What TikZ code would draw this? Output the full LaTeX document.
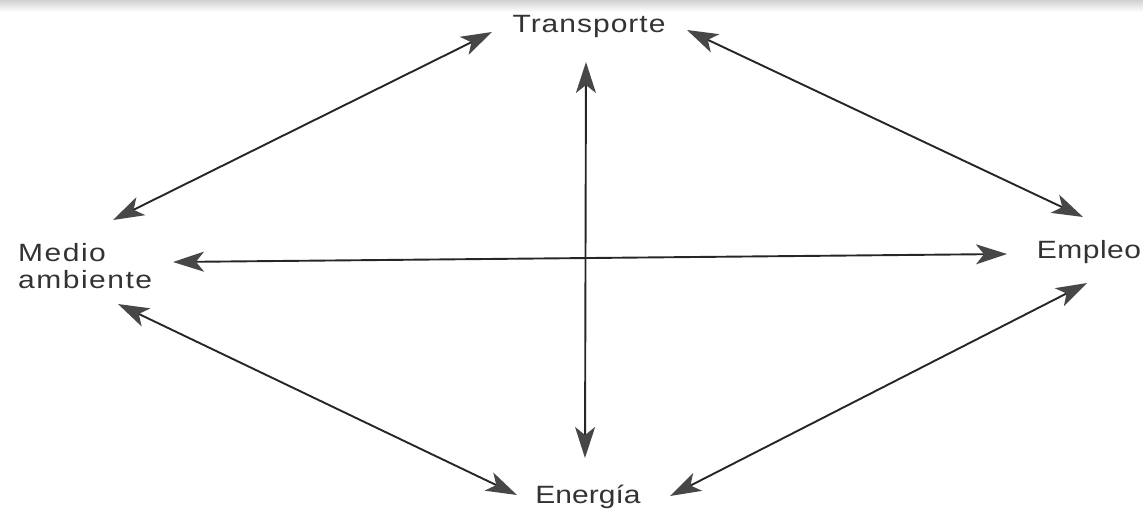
\documentclass[tikz,border=0pt]{standalone}
\usepackage{fontspec}
\setmainfont{Liberation Sans}
\newfontfamily\trfont[FakeStretch=1.2,LetterSpace=4]{Liberation Sans}
\newfontfamily\mafont[FakeStretch=1.2,LetterSpace=6]{Liberation Sans}
\newfontfamily\emfont[FakeStretch=1.2,LetterSpace=2]{Liberation Sans}
\newfontfamily\enfont[FakeStretch=1.2]{Liberation Sans}
\usetikzlibrary{arrows.meta}
\begin{document}
\begin{tikzpicture}[x=1pt,y=-1pt,
  lab/.style={text=black!80, inner sep=0pt},
  link/.style={line width=1.9pt, draw=black!85, {Stealth[length=31pt,width=20pt,inset=8pt,color=black!72]}-{Stealth[length=31pt,width=20pt,inset=8pt,color=black!72]}}]
\useasboundingbox (0,0) rectangle (1143,515);
\shade[top color=black!18,bottom color=white] (0,0) rectangle (1143,12);
\node[lab,font=\trfont\fontsize{25}{26}\selectfont,anchor=base] (tr) at (589,32) {Transporte};
\node[lab,font=\mafont\fontsize{25}{26.5}\selectfont,anchor=base west,align=left] (ma) at (18,288) {Medio\\ambiente};
\node[lab,font=\emfont\fontsize{25}{26}\selectfont,anchor=base] (em) at (1089,258) {Empleo};
\node[lab,font=\enfont\fontsize{25}{26}\selectfont,anchor=base] (en) at (588,503) {Energía};
\coordinate (trL) at (492,32);
\coordinate (trR) at (687,30);
\coordinate (trB) at (586,62);
\coordinate (maT) at (113,220);
\coordinate (maR) at (173,262);
\coordinate (maB) at (118,304);
\coordinate (emT) at (1083,217);
\coordinate (emL) at (1007,254);
\coordinate (emB) at (1087,283);
\coordinate (enL) at (517,495);
\coordinate (enR) at (670,496);
\coordinate (enT) at (585,458);
\draw[link] (trL) -- (maT);
\draw[link] (trR) -- (emT);
\draw[link] (maB) -- (enL);
\draw[link] (enR) -- (emB);
\draw[link] (trB) -- (enT);
\draw[link] (maR) -- (emL);
\end{tikzpicture}
\end{document}
